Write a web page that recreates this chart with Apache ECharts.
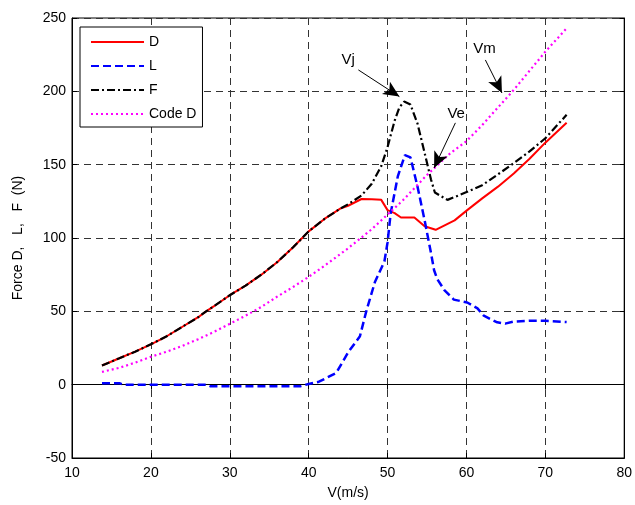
<!DOCTYPE html>
<html>
<head>
<meta charset="utf-8">
<script src="https://cdn.jsdelivr.net/npm/echarts@6/dist/echarts.min.js"></script>
<style>html,body{margin:0;padding:0;background:#fff;}#c{width:635px;height:505px;}</style>
</head>
<body>
<div id="c"></div>
<script>
// ---- data ----
var seriesNames = ['D', 'L', 'F', 'Code D'];
var xTicks = [10, 20, 30, 40, 50, 60, 70, 80];
var yTicks = [-50, 0, 50, 100, 150, 200, 250];

var vD = [13.8, 16, 18, 20, 22, 24, 26, 27, 28, 30, 32, 34, 36, 38, 40, 42, 44, 45, 46.7, 48, 49.2, 50, 50.9, 51.7, 53.4, 54.7, 56.1, 58.5, 60.1, 62, 64, 66, 68, 70, 72.7];
var fD = [13.1, 18, 22.5, 27.5, 33, 39.5, 46, 50, 53.5, 61, 67.5, 75, 83.5, 93.5, 104.5, 113, 120, 122, 126.6, 126.5, 126, 119, 117, 114, 114, 108, 105.6, 112, 119, 127, 135, 144, 154, 165, 178.6];

var vL = [13.8, 16, 16.5, 20, 27, 27.5, 30, 35, 39, 40, 41.3, 43.5, 45, 46.5, 47.3, 48.4, 49.6, 50, 50.4, 51.3, 52.2, 52.9, 53.8, 54.7, 55.5, 55.9, 56.3, 57.2, 58.4, 60.1, 61.4, 62.2, 63.9, 64.9, 66, 68, 70, 72.7];
var fL = [1, 1, 0, 0, 0, -1, -1, -1, -1, 0.5, 2, 8, 22, 33, 50, 70, 84, 97, 117, 142, 156.5, 155, 135, 112, 90, 78, 72, 64.5, 58, 56, 52, 47, 42.5, 41.6, 43, 43.6, 43.6, 42.7];

var vF = [13.8, 16, 18, 20, 22, 24, 26, 27, 28, 30, 32, 34, 36, 38, 40, 42, 44, 45, 46.7, 48, 49.2, 50, 50.9, 51.5, 52.1, 52.9, 53.8, 54.7, 55.5, 56, 57.6, 59, 60.1, 62, 63.9, 66, 68, 70, 72.7];
var fF = [13.1, 18, 22.5, 27.5, 33, 39.5, 46, 50, 53.5, 61, 67.5, 75, 83.5, 93.5, 104.5, 113, 120, 123, 129, 137, 149, 162, 180, 189, 193, 191, 178, 158, 140, 131, 126, 129, 131.5, 136, 143, 151, 159, 168, 184];

var vC = [13.8, 16, 18, 20, 22, 24, 26, 28, 30, 32, 34, 36, 38, 40, 42, 45, 48, 50, 52, 55, 58, 60, 62, 64, 66, 68, 70, 72.7];
var fC = [8.7, 11.5, 15, 19, 22.5, 26.5, 31, 36, 41.5, 47, 53, 60, 66.5, 73.5, 81, 93, 106, 116, 126, 143, 158, 166, 177, 189, 201, 214, 227, 243];

// annotations: label, text position, arrow start, arrow tip (data coords)
var annLabels = ['Vj', 'Vm', 'Ve'];
var annText = [[45, 221.4], [62.3, 228.9], [58.7, 184.6]];
var annFrom = [[46.3, 214.6], [62.4, 221.4], [58.6, 178.5]];
var annTo = [[51.5, 196.4], [64.5, 198.9], [55.9, 147.8]];

function zip(a, b) { return a.map(function (v, i) { return [v, b[i]]; }); }

var FONT = 'Liberation Sans, Arial, sans-serif';
var gridLine = { show: true, lineStyle: { color: '#333', width: 1, type: [7, 5] } };

var chart = echarts.init(document.getElementById('c'), null, { renderer: 'canvas' });
var option = {
  backgroundColor: '#fff',
  animation: false,
  textStyle: { fontFamily: FONT },
  grid: { left: 72, right: 7, top: 18, bottom: 46, show: true, borderColor: '#000', borderWidth: 1, backgroundColor: 'transparent' },
  legend: {
    data: seriesNames,
    orient: 'vertical',
    left: 80, top: 27,
    padding: [8, 6, 6, 10],
    itemWidth: 53, itemHeight: 14, itemGap: 10,
    itemStyle: { opacity: 0 },
    borderColor: '#000', borderWidth: 1, backgroundColor: '#fff',
    textStyle: { fontFamily: FONT, fontSize: 14, color: '#000' }
  },
  xAxis: [{
    type: 'value', min: xTicks[0], max: xTicks[xTicks.length - 1], interval: 10,
    name: 'V(m/s)', nameLocation: 'middle', nameGap: 28,
    nameTextStyle: { fontFamily: FONT, fontSize: 14, color: '#000' },
    axisLine: { show: true, onZero: false, lineStyle: { color: '#000', width: 1 } },
    axisTick: { show: true, inside: true, length: 5, lineStyle: { color: '#000' } },
    axisLabel: { fontFamily: FONT, fontSize: 14, color: '#000', margin: 8 },
    splitLine: gridLine
  }, {
    type: 'value', position: 'top', min: xTicks[0], max: xTicks[xTicks.length - 1], interval: 10,
    axisLine: { show: true, lineStyle: { color: '#000' } },
    axisTick: { show: true, inside: true, length: 5, lineStyle: { color: '#000' } },
    axisLabel: { show: false }, splitLine: { show: false }
  }],
  yAxis: [{
    type: 'value', min: yTicks[0], max: yTicks[yTicks.length - 1], interval: 50,
    name: 'Force D,   L,   F  (N)', nameLocation: 'middle', nameGap: 47,
    nameTextStyle: { fontFamily: FONT, fontSize: 14, color: '#000' },
    axisLine: { show: true, onZero: false, lineStyle: { color: '#000', width: 1 } },
    axisTick: { show: true, inside: true, length: 5, lineStyle: { color: '#000' } },
    axisLabel: { fontFamily: FONT, fontSize: 14, color: '#000', margin: 6 },
    splitLine: gridLine
  }, {
    type: 'value', position: 'right', min: yTicks[0], max: yTicks[yTicks.length - 1], interval: 50,
    axisLine: { show: true, lineStyle: { color: '#000' } },
    axisTick: { show: true, inside: true, length: 5, lineStyle: { color: '#000' } },
    axisLabel: { show: false }, splitLine: { show: false }
  }],
  series: [
    { name: 'D', type: 'line', data: zip(vD, fD), symbol: 'none', smooth: false,
      lineStyle: { color: '#ff0000', width: 2, type: 'solid' }, itemStyle: { color: '#ff0000' } },
    { name: 'L', type: 'line', data: zip(vL, fL), symbol: 'none', smooth: false,
      lineStyle: { color: '#0000ff', width: 2.5, type: [8, 4] }, itemStyle: { color: '#0000ff' } },
    { name: 'F', type: 'line', data: zip(vF, fF), symbol: 'none', smooth: false,
      lineStyle: { color: '#000000', width: 2.2, type: [8, 3, 2, 3] }, itemStyle: { color: '#000000' } },
    { name: 'Code D', type: 'line', data: zip(vC, fC), symbol: 'none', smooth: false,
      lineStyle: { color: '#ff00ff', width: 2.2, type: [2, 3] }, itemStyle: { color: '#ff00ff' } },
    { name: 'annotations', type: 'scatter', symbolSize: 1, silent: true,
      itemStyle: { color: '#000', opacity: 0 },
      data: annLabels.map(function (l, i) { return { value: annText[i], name: l }; }),
      label: { show: true, position: 'inside', formatter: '{b}', fontFamily: FONT, fontSize: 15, color: '#000', opacity: 1 },
      markLine: {
        silent: true, animation: false,
        symbol: ['none', 'arrow'], symbolSize: [11, 16],
        itemStyle: { color: '#000', opacity: 1 },
        lineStyle: { color: '#000', width: 1, type: 'solid', opacity: 1 },
        label: { show: false },
        data: annFrom.map(function (f, i) { return [{ coord: f }, { coord: annTo[i] }]; })
      }
    }
  ]
};
chart.setOption(option);
</script>
</body>
</html>
